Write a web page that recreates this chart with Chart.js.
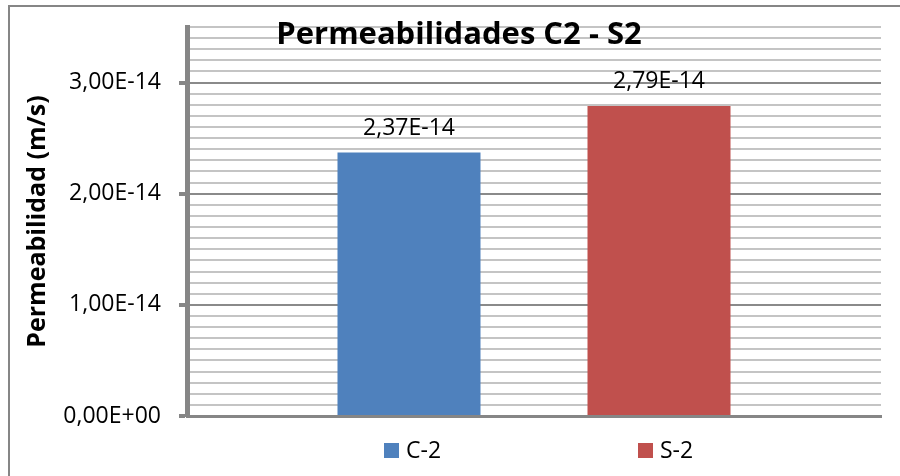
<!DOCTYPE html>
<html>
<head>
<meta charset="utf-8">
<script src="https://cdn.jsdelivr.net/npm/chart.js@4/dist/chart.umd.min.js"></script>
<style>
  html, body { margin: 0; padding: 0; background: #ffffff; }
  #wrap { width: 900px; height: 476px; position: relative; }
</style>
</head>
<body>
<div id="wrap"><canvas id="c" width="900" height="476"></canvas></div>
<script>
// ---- data ----
const TITLE_TEXT = 'Permeabilidades C2 - S2';
const Y_TITLE = 'Permeabilidad (m/s)';
const CATEGORIES = [''];
const SERIES_NAMES = ['C-2', 'S-2'];
const SERIES_VALUES = [[2.37e-14], [2.79e-14]];
const SERIES_COLORS = ['#4F81BD', '#C0504D'];
const Y_MIN = 0;
const Y_MAX = 3.5e-14;
const Y_MINOR_STEP = 1e-15;
const Y_MAJOR_TICKS = [0, 1e-14, 2e-14, 3e-14];
const Y_TICK_LABELS = ['0,00E+00', '1,00E-14', '2,00E-14', '3,00E-14'];

const FONT = "'Open Sans', 'DejaVu Sans', sans-serif";

function fmtSci(v) {
  const s = v.toExponential(2);
  const parts = s.split('e');
  let exp = parseInt(parts[1], 10);
  const sign = exp < 0 ? '-' : '+';
  exp = Math.abs(exp);
  return parts[0].replace('.', ',') + 'E' + sign + (exp < 10 ? '0' + exp : exp);
}

function majorIndex(v) {
  for (let i = 0; i < Y_MAJOR_TICKS.length; i++) {
    if (Math.abs(v - Y_MAJOR_TICKS[i]) < Y_MINOR_STEP / 10) return i;
  }
  return -1;
}

const frameAndTextPlugin = {
  id: 'frameAndText',
  beforeDraw(chart) {
    const ctx = chart.ctx;
    ctx.save();
    ctx.fillStyle = '#ffffff';
    ctx.fillRect(0, 0, chart.width, chart.height);
    ctx.strokeStyle = '#868686';
    ctx.lineWidth = 2;
    ctx.beginPath();
    ctx.moveTo(9, chart.height);
    ctx.lineTo(9, 6);
    ctx.lineTo(chart.width, 6);
    ctx.stroke();
    ctx.restore();
  },
  afterDatasetsDraw(chart) {
    const ctx = chart.ctx;
    ctx.save();
    ctx.font = '23px ' + FONT;
    ctx.fillStyle = '#000000';
    ctx.textAlign = 'center';
    ctx.textBaseline = 'alphabetic';
    chart.data.datasets.forEach((ds, i) => {
      const meta = chart.getDatasetMeta(i);
      meta.data.forEach((bar, j) => {
        ctx.fillText(fmtSci(ds.data[j]), bar.x, bar.y - 18);
      });
    });
    ctx.restore();
  },
  afterDraw(chart) {
    const ctx = chart.ctx;
    ctx.save();
    ctx.font = 'bold 31px ' + FONT;
    ctx.fillStyle = '#000000';
    ctx.textAlign = 'center';
    ctx.textBaseline = 'alphabetic';
    ctx.fillText(TITLE_TEXT, 459, 44);
    const legendX = [384, 638];
    ctx.font = '23px ' + FONT;
    ctx.textAlign = 'left';
    ctx.textBaseline = 'middle';
    chart.data.datasets.forEach((ds, i) => {
      ctx.fillStyle = ds.backgroundColor;
      ctx.fillRect(legendX[i], 443, 15, 15);
      ctx.fillStyle = '#000000';
      ctx.fillText(ds.label, legendX[i] + 22, 451);
    });
    ctx.restore();
  }
};

new Chart(document.getElementById('c'), {
  type: 'bar',
  data: {
    labels: CATEGORIES,
    datasets: SERIES_NAMES.map((name, i) => ({
      label: name,
      data: SERIES_VALUES[i],
      backgroundColor: SERIES_COLORS[i],
      borderWidth: 0,
      categoryPercentage: 0.7205,
      barPercentage: 0.572
    }))
  },
  options: {
    responsive: false,
    animation: false,
    devicePixelRatio: 1,
    layout: { padding: { left: 0, right: 19, top: 27, bottom: 60 } },
    plugins: {
      legend: { display: false },
      title: { display: false },
      tooltip: { enabled: false }
    },
    scales: {
      x: {
        display: true,
        grid: { display: false },
        ticks: { display: false },
        border: { display: true, color: '#868686', width: 3 },
        afterFit(scale) { scale.height = 0; }
      },
      y: {
        min: Y_MIN,
        max: Y_MAX,
        afterFit(scale) {
          scale.width = 187;
          scale.paddingTop = 0;
          scale.paddingBottom = 0;
        },
        afterBuildTicks(scale) {
          const n = Math.round((Y_MAX - Y_MIN) / Y_MINOR_STEP);
          const t = [];
          for (let k = 0; k <= n; k++) t.push({ value: Y_MIN + k * Y_MINOR_STEP });
          scale.ticks = t;
        },
        ticks: {
          autoSkip: false,
          padding: 18,
          color: '#000000',
          font: { family: FONT, size: 23 },
          callback(value) {
            const i = majorIndex(value);
            return i >= 0 ? Y_TICK_LABELS[i] : '';
          }
        },
        grid: {
          drawTicks: true,
          tickLength: 8,
          color(ctx) {
            return ctx.tick && majorIndex(ctx.tick.value) >= 0 ? '#8a8a8a' : '#c4c4c4';
          },
          lineWidth: 2,
          tickColor(ctx) {
            return ctx.tick && majorIndex(ctx.tick.value) >= 0 ? '#868686' : 'rgba(0,0,0,0)';
          },
          tickWidth(ctx) {
            return ctx.tick && majorIndex(ctx.tick.value) >= 0 ? 4 : 0;
          }
        },
        border: { display: true, color: '#868686', width: 5 },
        title: {
          display: true,
          text: Y_TITLE,
          color: '#000000',
          font: { family: FONT, size: 25, weight: 'bold' },
          padding: { top: 23, bottom: 0 }
        }
      }
    }
  },
  plugins: [frameAndTextPlugin]
});
</script>
</body>
</html>
